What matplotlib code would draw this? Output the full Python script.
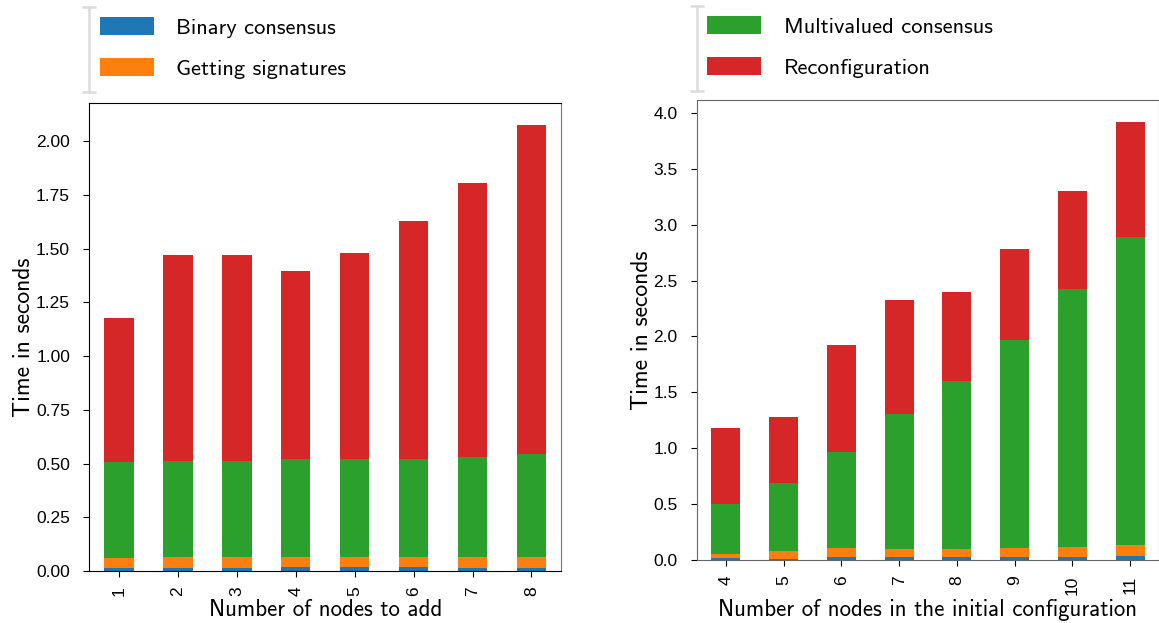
import numpy as np
import matplotlib
matplotlib.use("Agg")
import matplotlib.pyplot as plt
from matplotlib.lines import Line2D

# Stage timings (seconds) per run, stacked bottom to top
nodes_added = ["1", "2", "3", "4", "5", "6", "7", "8"]
add_binary = [0.013, 0.015, 0.015, 0.019, 0.018, 0.018, 0.015, 0.015]
add_signatures = [0.049, 0.051, 0.051, 0.047, 0.048, 0.048, 0.051, 0.051]
add_multivalued = [0.445, 0.446, 0.444, 0.454, 0.454, 0.454, 0.464, 0.478]
add_reconfig = [0.670, 0.958, 0.960, 0.875, 0.959, 1.108, 1.275, 1.530]

initial_nodes = ["4", "5", "6", "7", "8", "9", "10", "11"]
init_binary = [0.015, 0.012, 0.027, 0.025, 0.025, 0.030, 0.030, 0.040]
init_signatures = [0.042, 0.065, 0.080, 0.070, 0.070, 0.074, 0.083, 0.090]
init_multivalued = [0.448, 0.616, 0.855, 1.208, 1.505, 1.866, 2.311, 2.760]
init_reconfig = [0.673, 0.583, 0.958, 1.022, 0.797, 0.810, 0.876, 1.030]

stage_names = ["Binary consensus", "Getting signatures",
               "Multivalued consensus", "Reconfiguration"]
stage_colors = ["#1f77b4", "#ff7f0e", "#2ca02c", "#d62728"]

label_font = "cmss10"
tick_font = "Liberation Sans"


def stacked(ax, labels, series):
    x = np.arange(len(labels))
    bottom = np.zeros(len(labels))
    bars = []
    for vals, color in zip(series, stage_colors):
        vals = np.asarray(vals)
        bars.append(ax.bar(x, vals, 0.5, bottom=bottom, color=color))
        bottom += vals
    ax.set_xlim(-0.5, len(labels) - 0.5)
    ax.set_xticks(x)
    ax.set_xticklabels(labels, rotation=90)
    ax.tick_params(length=4)
    ax.tick_params(axis="y", pad=10)
    ax.tick_params(axis="x", pad=7)
    for t in ax.get_xticklabels() + ax.get_yticklabels():
        t.set_fontfamily(tick_font)
        t.set_fontsize(12.5)
    return bars


fig = plt.figure(figsize=(11.59, 6.23), dpi=100)
ax1 = fig.add_axes([0.0772, 0.0835, 0.4068, 0.751])
ax2 = fig.add_axes([0.6014, 0.1011, 0.3986, 0.7384])

ax1.set_yticks(np.arange(0, 2.01, 0.25))
ax1.yaxis.set_major_formatter(matplotlib.ticker.FormatStrFormatter("%.2f"))
b1 = stacked(ax1, nodes_added,
             [add_binary, add_signatures, add_multivalued, add_reconfig])
ax1.set_xlabel("Number of nodes to add", fontsize=16.5, family=label_font,
               labelpad=2)
ax1.set_ylabel("Time in seconds", fontsize=17, family=label_font, labelpad=1)
for s in ax1.spines.values():
    s.set_color("black")
ax1.spines["right"].set_color("#777777")

ax2.set_yticks(np.arange(0, 4.01, 0.5))
ax2.yaxis.set_major_formatter(matplotlib.ticker.FormatStrFormatter("%.1f"))
b2 = stacked(ax2, initial_nodes,
             [init_binary, init_signatures, init_multivalued, init_reconfig])
ax2.set_xlabel("Number of nodes in the initial configuration", fontsize=16.5,
               family=label_font, labelpad=3)
ax2.set_ylabel("Time in seconds", fontsize=17, family=label_font, labelpad=0)
for s in ax2.spines.values():
    s.set_color("#666666")

leg_kw = dict(loc="center left", frameon=False, borderpad=0, borderaxespad=0,
              handlelength=2.4, handleheight=0.85, handletextpad=1.0,
              labelspacing=0.9, prop={"family": label_font, "size": 16.2})
ax1.legend([b1[0], b1[1]], stage_names[:2],
           bbox_to_anchor=(0.022, 1.1175), **leg_kw)
ax2.legend([b2[2], b2[3]], stage_names[2:],
           bbox_to_anchor=(0.0216, 1.116), **leg_kw)

# light brackets to the left of each legend
for xpx, top, bot in [(89, 7, 92), (697, 6, 91)]:
    fig.add_artist(Line2D([xpx / 1159] * 2, [1 - top / 623, 1 - bot / 623],
                          transform=fig.transFigure, color="#dcdcdc", lw=1.8,
                          marker="_", markersize=10, markeredgewidth=1.8))

fig.savefig("out.png", dpi=100)
